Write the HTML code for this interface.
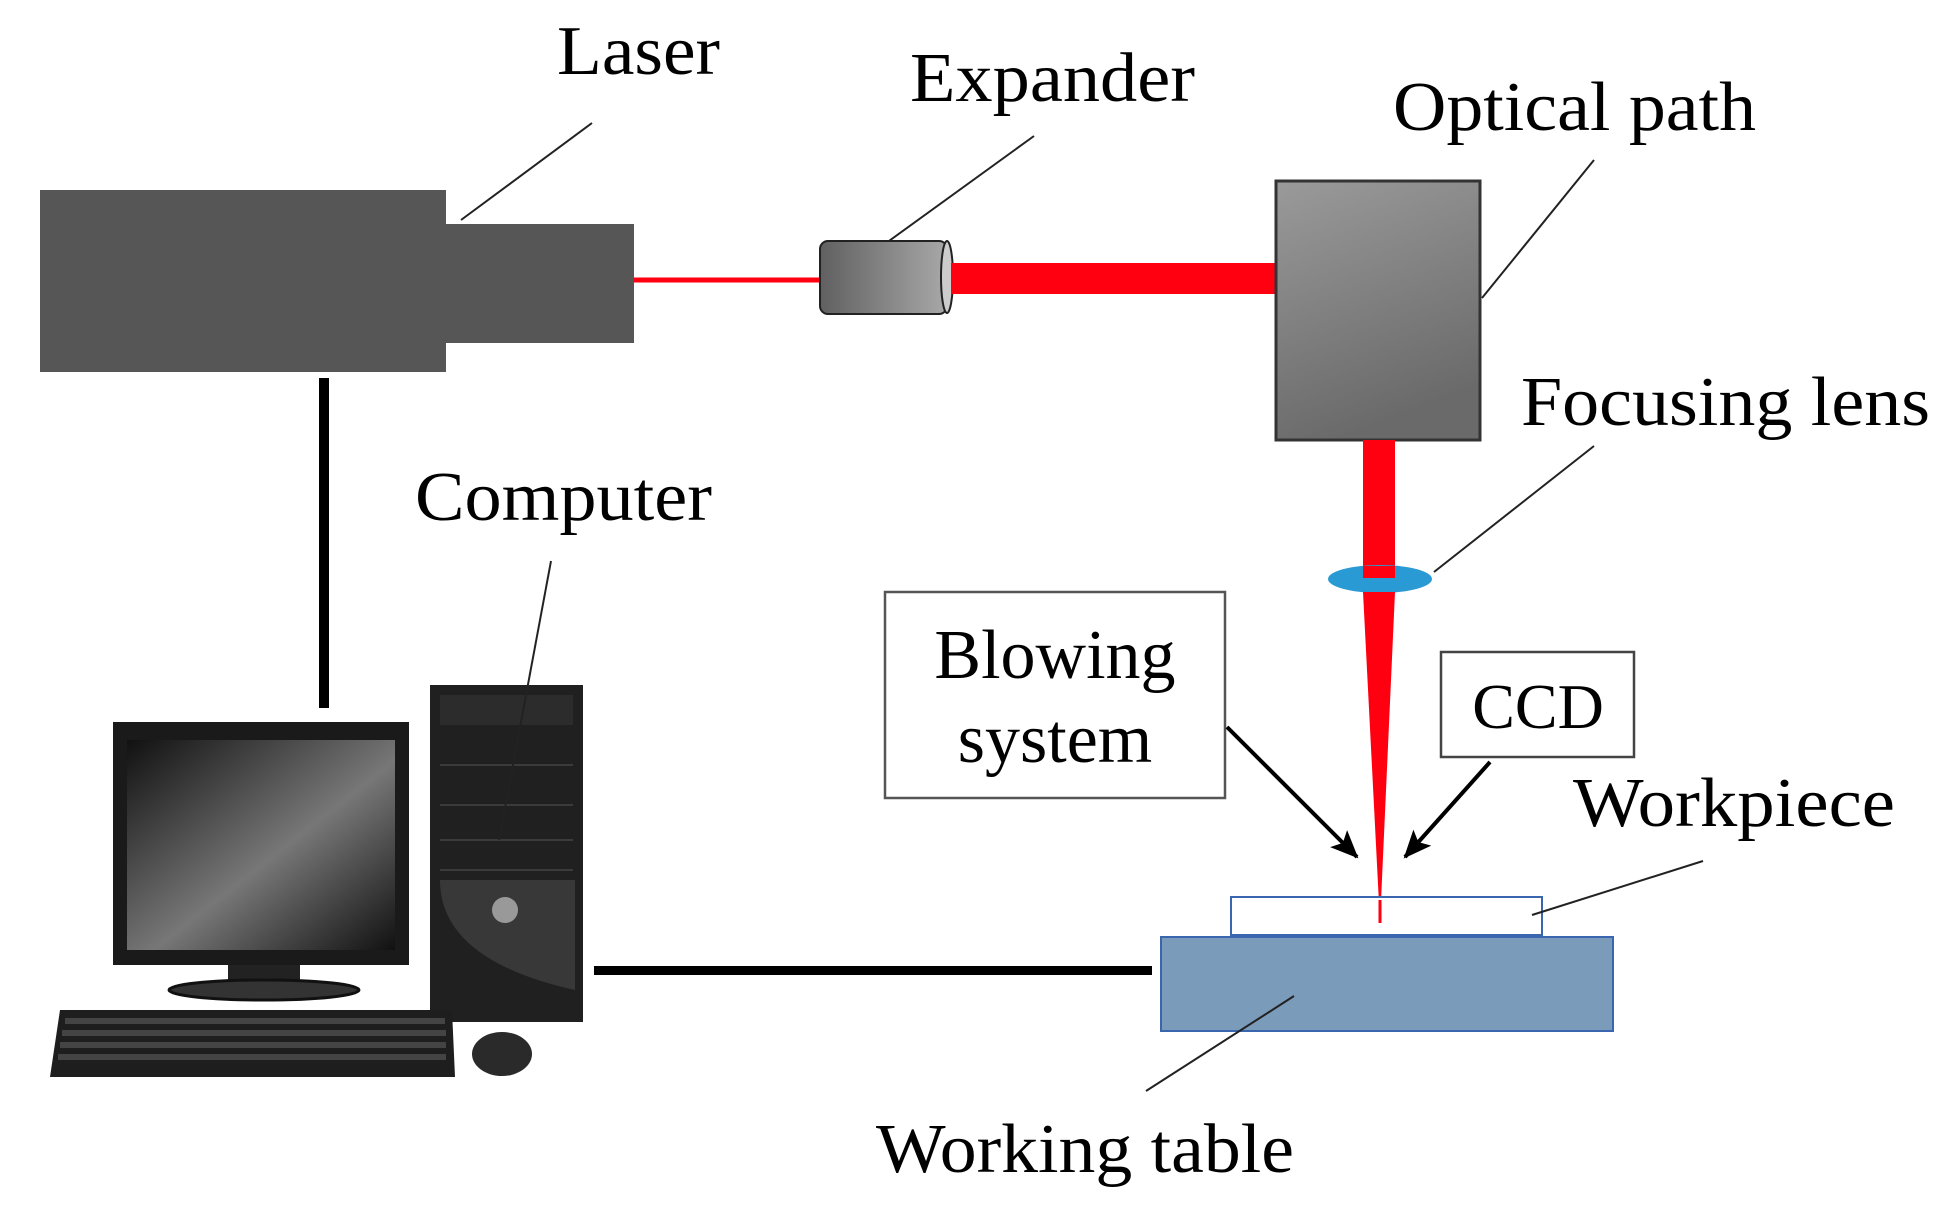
<!DOCTYPE html>
<html><head><meta charset="utf-8"><style>
html,body{margin:0;padding:0;background:#fff;}
svg{display:block;}
text{font-family:"Liberation Serif",serif;fill:#000;}
</style></head><body>
<svg width="1942" height="1221" viewBox="0 0 1942 1221" xmlns="http://www.w3.org/2000/svg">
<defs>
<linearGradient id="exp" x1="0" x2="1" y1="0" y2="0"><stop offset="0" stop-color="#606060"/><stop offset="1" stop-color="#a8a8a8"/></linearGradient>
<linearGradient id="opt" x1="0" x2="0.3" y1="0" y2="1"><stop offset="0" stop-color="#9a9a9a"/><stop offset="1" stop-color="#6a6a6a"/></linearGradient>
<linearGradient id="scr" x1="0" x2="1" y1="0" y2="1"><stop offset="0" stop-color="#111"/><stop offset="0.55" stop-color="#777"/><stop offset="1" stop-color="#111"/></linearGradient>
<marker id="ah" markerWidth="30" markerHeight="30" refX="26" refY="12" orient="auto" markerUnits="userSpaceOnUse" viewBox="0 0 30 24"><path d="M0,0 L28,12 L0,24 L6,12 z" fill="#000"/></marker>
</defs>
<!-- laser -->
<rect x="40" y="190" width="406" height="182" fill="#565656"/>
<rect x="446" y="224" width="188" height="119" fill="#565656"/>
<line x1="634" y1="280" x2="822" y2="280" stroke="#ff0010" stroke-width="5"/>
<!-- expander -->
<rect x="820" y="241" width="127" height="73" rx="8" fill="url(#exp)" stroke="#222" stroke-width="2"/>
<ellipse cx="947" cy="277" rx="6" ry="36" fill="#ccc" stroke="#222" stroke-width="2"/>
<rect x="951" y="263" width="326" height="31" fill="#ff0010"/>
<!-- optical path -->
<rect x="1276" y="181" width="204" height="259" fill="url(#opt)" stroke="#333" stroke-width="3"/>
<!-- beam down -->
<rect x="1363" y="440" width="32" height="140" fill="#ff0010"/>
<ellipse cx="1380" cy="579" rx="52" ry="14" fill="#2a9ad4"/>
<rect x="1363" y="566" width="32" height="12" fill="#ff0010"/>
<polygon points="1363,592 1395,592 1380,923" fill="#ff0010"/>
<!-- black connectors -->
<rect x="319" y="378" width="10" height="330" fill="#000"/>
<rect x="594" y="966" width="558" height="9" fill="#000"/>
<!-- blowing box -->
<rect x="885" y="592" width="340" height="206" fill="#fff" stroke="#555" stroke-width="2.5"/>
<text x="1055" y="678" font-size="70" text-anchor="middle">Blowing</text>
<text x="1055" y="762" font-size="70" text-anchor="middle">system</text>
<!-- CCD box -->
<rect x="1441" y="652" width="193" height="105" fill="#fff" stroke="#444" stroke-width="2.5"/>
<text x="1538" y="728" font-size="64" text-anchor="middle">CCD</text>
<!-- arrows -->
<line x1="1227" y1="727" x2="1357" y2="857" stroke="#000" stroke-width="4" marker-end="url(#ah)"/>
<line x1="1490" y1="762" x2="1405" y2="857" stroke="#000" stroke-width="4" marker-end="url(#ah)"/>
<!-- workpiece & table -->
<rect x="1231" y="897" width="311" height="38" fill="#fff" stroke="#3a66b0" stroke-width="2"/>
<rect x="1161" y="937" width="452" height="94" fill="#7b9bba" stroke="#3a66b0" stroke-width="2"/>
<line x1="1380" y1="900" x2="1380" y2="923" stroke="#ff0010" stroke-width="3"/>
<!-- computer -->
<rect x="113" y="722" width="296" height="243" fill="#1a1a1a"/>
<rect x="127" y="740" width="268" height="210" fill="url(#scr)"/>
<rect x="228" y="965" width="72" height="20" fill="#222"/>
<ellipse cx="264" cy="990" rx="95" ry="10" fill="#333" stroke="#111" stroke-width="3"/>
<rect x="430" y="685" width="153" height="337" fill="#202020"/>
<rect x="440" y="695" width="133" height="30" fill="#2c2c2c"/>
<g stroke="#444" stroke-width="1.5"><line x1="440" y1="765" x2="573" y2="765"/><line x1="440" y1="805" x2="573" y2="805"/><line x1="440" y1="840" x2="573" y2="840"/><line x1="440" y1="870" x2="573" y2="870"/></g>
<path d="M440,880 Q440,960 575,990 L575,880 z" fill="#383838"/>
<circle cx="505" cy="910" r="13" fill="#999"/>
<path d="M60,1010 L452,1010 L455,1077 L50,1077 z" fill="#1e1e1e"/>
<g fill="#444"><rect x="65" y="1018" width="380" height="6"/><rect x="62" y="1030" width="384" height="6"/><rect x="60" y="1042" width="386" height="6"/><rect x="58" y="1054" width="388" height="6"/></g>
<ellipse cx="502" cy="1054" rx="30" ry="22" fill="#2a2a2a"/>
<!-- leaders -->
<g stroke="#222" stroke-width="2" fill="none">
<line x1="461" y1="220" x2="592" y2="123"/>
<line x1="889" y1="241" x2="1034" y2="136"/>
<line x1="1482" y1="298" x2="1594" y2="160"/>
<line x1="1434" y1="572" x2="1594" y2="446"/>
<line x1="551" y1="561" x2="499" y2="840"/>
<line x1="1703" y1="861" x2="1532" y2="915"/>
<line x1="1294" y1="996" x2="1146" y2="1091"/>
</g>
<!-- labels -->
<text x="557" y="74" font-size="70" textLength="163" lengthAdjust="spacingAndGlyphs">Laser</text>
<text x="910" y="101" font-size="70" textLength="285" lengthAdjust="spacingAndGlyphs">Expander</text>
<text x="1393" y="130" font-size="70" textLength="363" lengthAdjust="spacingAndGlyphs">Optical path</text>
<text x="1521" y="425" font-size="70" textLength="409" lengthAdjust="spacingAndGlyphs">Focusing lens</text>
<text x="415" y="520" font-size="70" textLength="297" lengthAdjust="spacingAndGlyphs">Computer</text>
<text x="1573" y="826" font-size="70" textLength="322" lengthAdjust="spacingAndGlyphs">Workpiece</text>
<text x="876" y="1172" font-size="70" textLength="418" lengthAdjust="spacingAndGlyphs">Working table</text>
</svg>
</body></html>
